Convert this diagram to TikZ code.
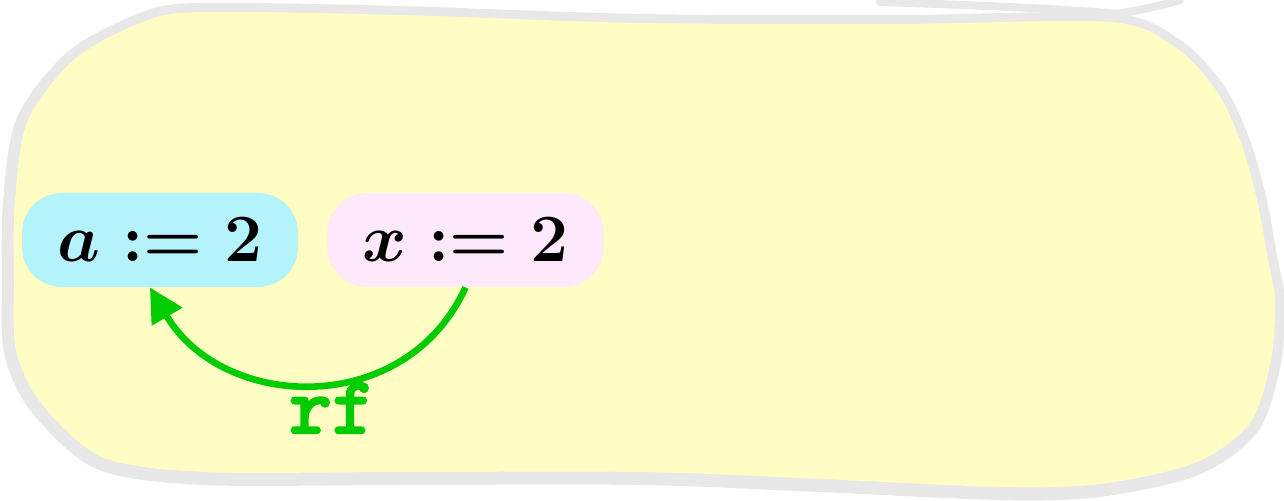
\documentclass[tikz,border=0pt]{standalone}
\usepackage{amsmath}
\usepackage{graphicx}
\usetikzlibrary{arrows.meta}
\definecolor{blobfill}{HTML}{FFFCC4}
\definecolor{blobline}{HTML}{E8E8E8}
\definecolor{nodeA}{HTML}{B4F3FB}
\definecolor{nodeX}{HTML}{FDE9FB}
\definecolor{rfgreen}{HTML}{00CC00}
\font\rfbold="[lmmonolt10-bold]:embolden=2" at 41pt
\newcommand{\bigmath}[1]{\scalebox{1.36}{\fontsize{24.88}{30}\selectfont\boldmath$#1$}}
\tikzset{
  stmt/.style={rounded corners=20pt, minimum width=138pt, minimum height=47pt,
    inner sep=0pt},
  rfarrow/.style={draw=rfgreen, line width=3.3pt, -{Triangle[length=17pt,width=17pt]}},
  rflabel/.style={text=rfgreen, font=\rfbold, inner sep=0pt}
}
\begin{document}
\begin{tikzpicture}[x=0.5pt,y=-0.5pt]
\useasboundingbox (0,0) rectangle (1284,501);
% outer gray stroke
\draw[draw=blobline, line width=11pt, shift={(-1,2)}]
  plot[smooth cycle, tension=0.5] coordinates {(200,12) (400,15) (640,23) (900,24) (1110,22) (1175,47) (1216,90) (1240,140) (1257,200) (1268,260) (1275,300) (1271,360) (1250,423) (1195,463) (1100,484) (1000,487) (800,478) (640,472) (400,472) (204,472) (102,457) (41,403) (16,350) (14,280) (15,200) (28,120) (76,58) (143,22)};
% overshoot of the pen stroke
\draw[draw=blobline, line width=4pt, line cap=round]
  (880,2) .. controls (1000,6) and (1080,10) .. (1117,14) .. controls (1140,10) and (1160,6) .. (1180,0);
% yellow fill
\fill[blobfill]
  plot[smooth cycle, tension=0.5] coordinates {(200,12) (400,15) (640,23) (900,24) (1110,22) (1175,47) (1216,90) (1240,140) (1257,200) (1268,260) (1275,300) (1271,360) (1250,423) (1195,463) (1100,484) (1000,487) (800,478) (640,472) (400,472) (204,472) (102,457) (41,403) (16,350) (14,280) (15,200) (28,120) (76,58) (143,22)};
% nodes
\node[stmt, fill=nodeA] (a) at (160,240) {\bigmath{a := 2}};
\node[stmt, fill=nodeX] (x) at (465.5,240) {\bigmath{x := 2}};
% arrow
\draw[rfarrow] (x.south) .. controls (405.5,419) and (222.5,411) .. (a.258);
\node[rflabel] (rf) at (332,408) {rf};
\end{tikzpicture}
\end{document}
